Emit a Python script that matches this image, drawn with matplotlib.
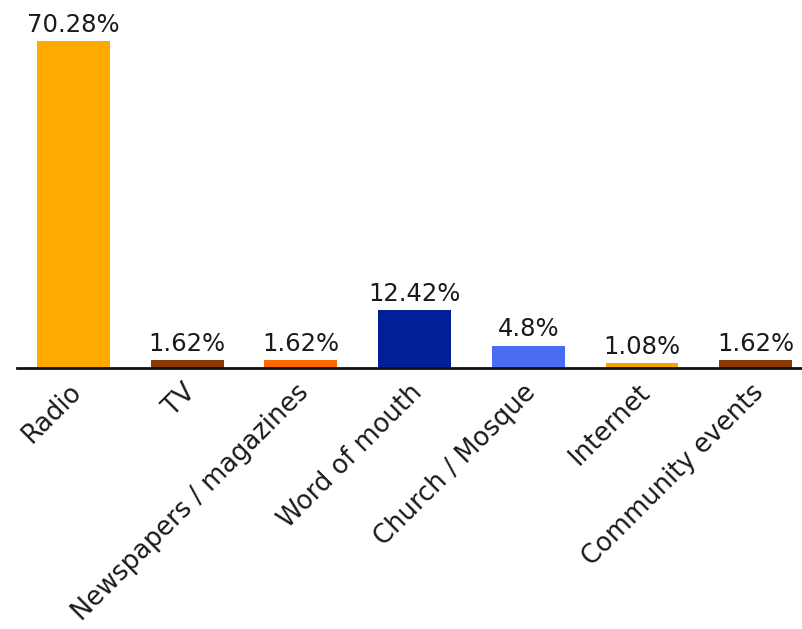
import matplotlib
matplotlib.use("Agg")
import matplotlib.pyplot as plt
from matplotlib.transforms import ScaledTranslation

categories = ["Radio", "TV", "Newspapers / magazines", "Word of mouth",
              "Church / Mosque", "Internet", "Community events"]
values = [70.28, 1.62, 1.62, 12.42, 4.8, 1.08, 1.62]
labels = ["70.28%", "1.62%", "1.62%", "12.42%", "4.8%", "1.08%", "1.62%"]
colors = ["#FFAA00", "#8B3A06", "#FF6A00", "#001F99", "#4A6CF0", "#F5A300", "#8B3A06"]

plt.rcParams['font.family'] = ['DejaVu Sans']

fig = plt.figure(figsize=(8.02, 6.29), dpi=100)
W, H = 802, 629
ax_left, ax_right = 16.65, 812.4
ax_top, ax_bottom = 41, 368
ax = fig.add_axes([ax_left / W, 1 - ax_bottom / H, (ax_right - ax_left) / W, (ax_bottom - ax_top) / H])
ax.patch.set_alpha(0)

x = list(range(len(categories)))
bars = ax.bar(x, values, width=0.64, color=colors, zorder=2)
for xi, v, lab in zip(x, values, labels):
    ax.annotate(lab, (xi, v), xytext=(0, 3), textcoords="offset points",
                ha="center", va="bottom", fontsize=17.5, color="#1a1a1a", clip_on=False)

ax.set_xlim(-0.5, 6.5)
ax.set_ylim(0, 70.28)
for s in ["top", "right", "left"]:
    ax.spines[s].set_visible(False)
ax.spines["bottom"].set_linewidth(2)
ax.spines["bottom"].set_color("#111111")
ax.spines["bottom"].set_zorder(3)
ax.set_yticks([])
ax.set_xticks(x)
ax.set_xticklabels(categories, rotation=45, ha="right", rotation_mode="anchor",
                   fontsize=18.5, color="#1a1a1a")
ax.tick_params(axis="x", length=0, pad=8)
offset = ScaledTranslation(-5 / 100, 0, fig.dpi_scale_trans)
for t in ax.get_xticklabels():
    t.set_transform(t.get_transform() + offset)

fig.savefig("out.png", dpi=100)
